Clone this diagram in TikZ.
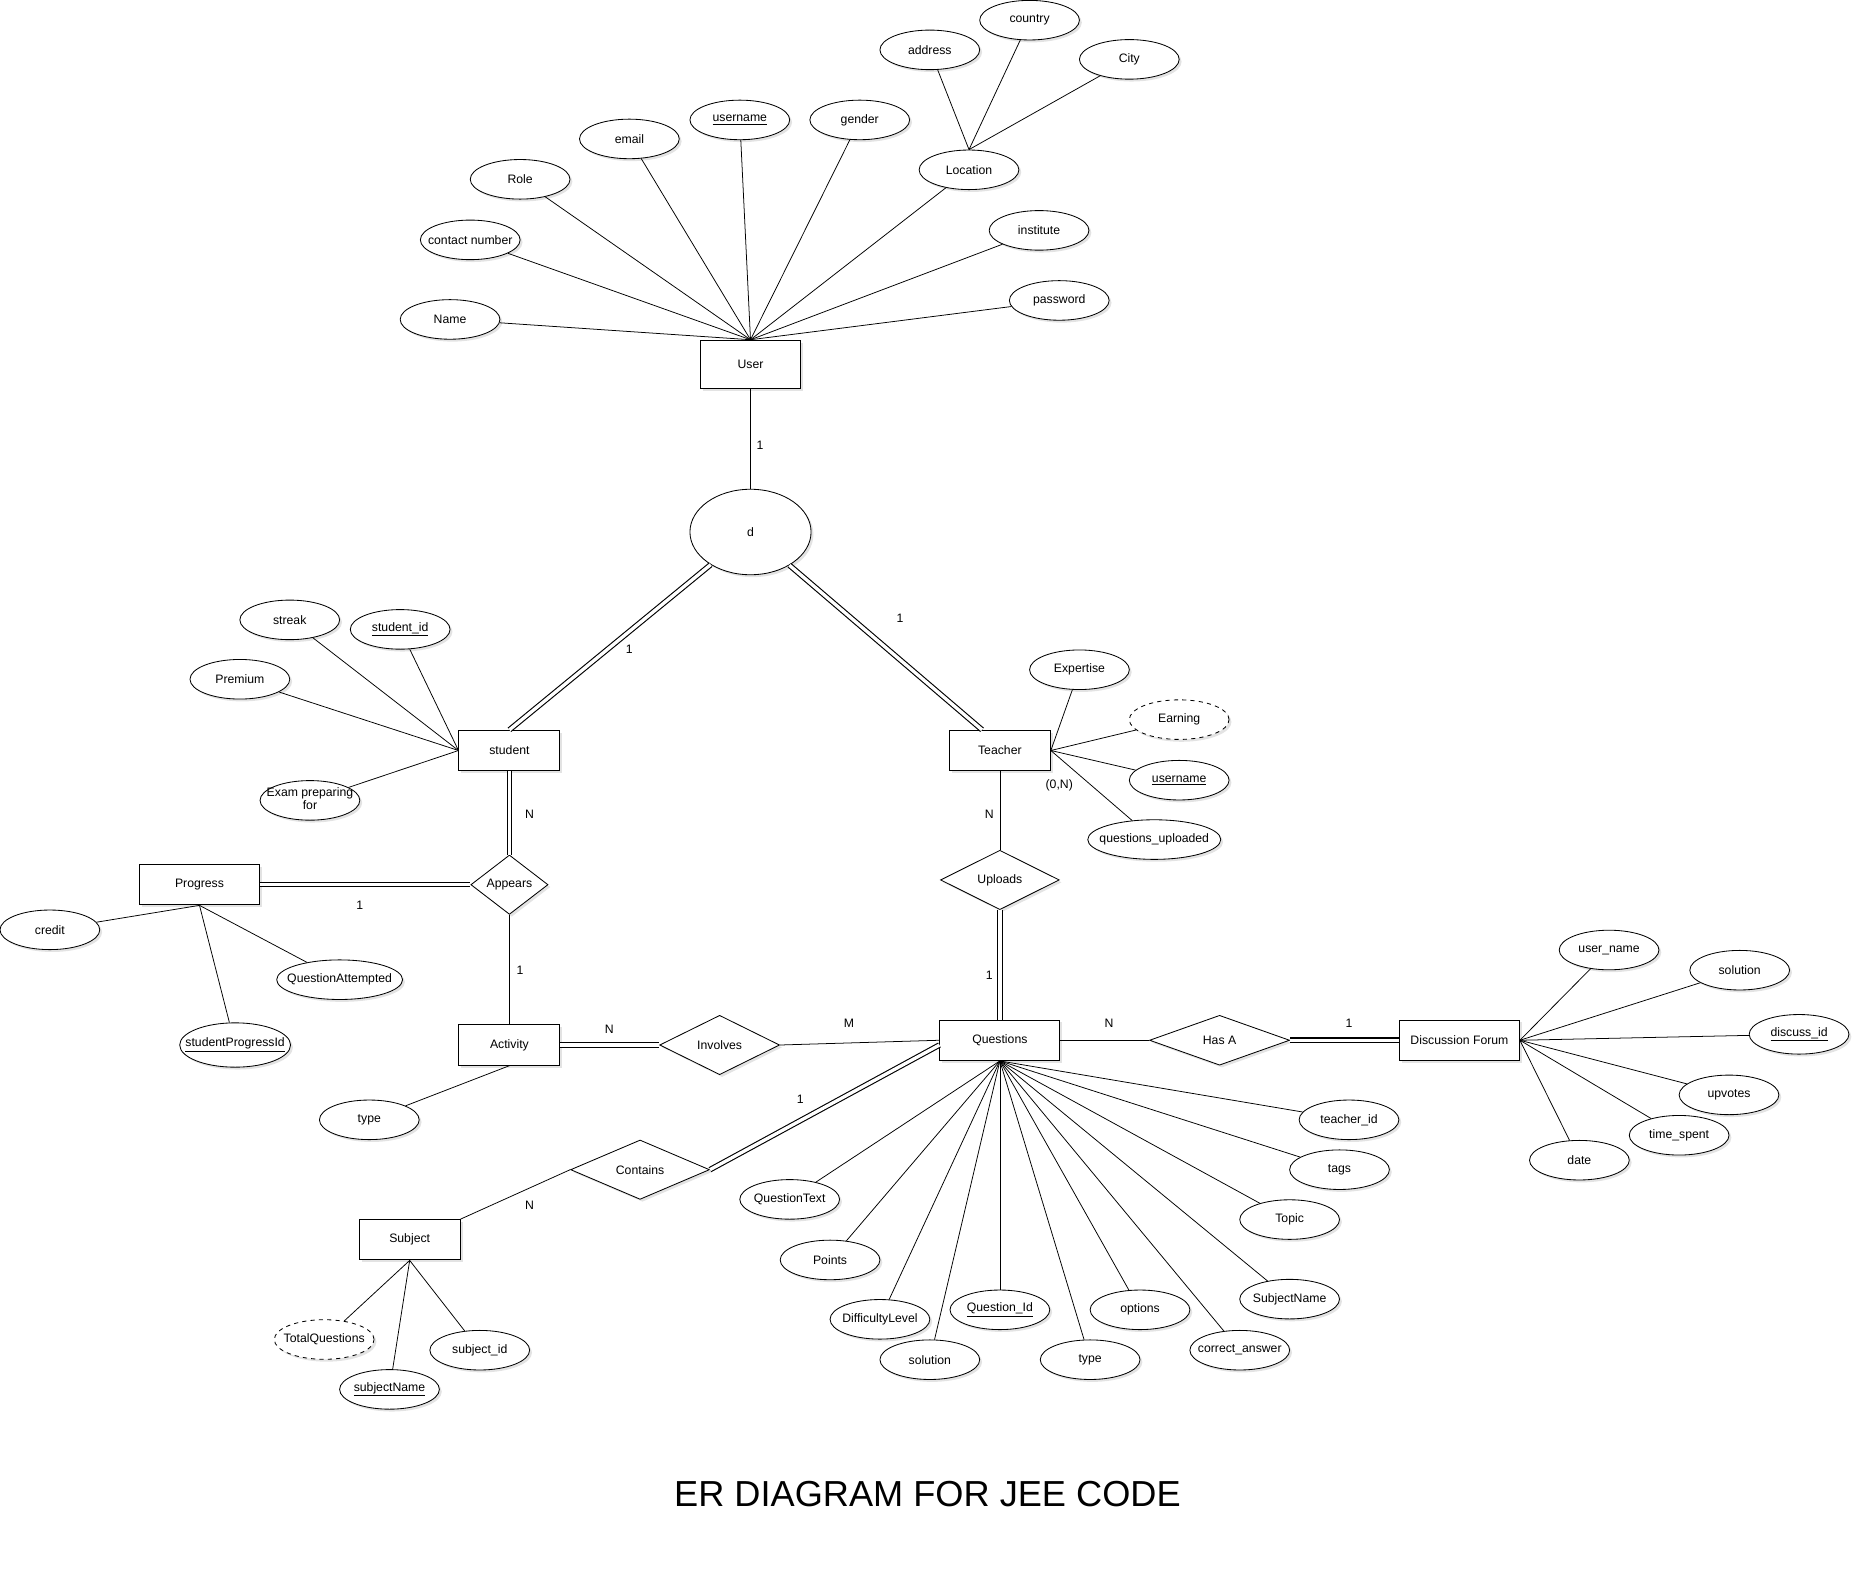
\documentclass[tikz,border=0pt]{standalone}
\usepackage{fontspec}
\setmainfont{Liberation Sans}
\usetikzlibrary{shapes.geometric,shadows}
\newcommand{\ct}[1]{\makebox[0pt][c]{#1}}
\begin{document}
\begin{tikzpicture}[x=0.03cm,y=-0.03cm,
 every node/.style={font=\fontsize{8.8}{10}\selectfont},
 shd/.style={drop shadow={opacity=0.22,shadow xshift=0.06cm,shadow yshift=-0.06cm}},
 attr/.style={ellipse,draw,fill=white,line width=0.6pt,minimum width=2.52cm,minimum height=1.0cm,inner sep=0pt,shd},
 dattr/.style={attr,dashed},
 ent/.style={rectangle,draw,fill=white,line width=0.7pt,minimum width=2.55cm,minimum height=1.02cm,inner sep=0pt,shd},
 rel/.style={diamond,draw,fill=white,line width=0.6pt,inner sep=0pt,shd},
 card/.style={inner sep=1pt},
 ln/.style={line width=0.55pt},
 dbl/.style={double,double distance=2.4pt,line width=0.8pt}]
\useasboundingbox (0,0) rectangle (1568,1324);

% ---------- User ----------
\node[ent,minimum width=2.52cm,minimum height=1.23cm] (user) at (632,307) {User};
\node[attr] (name) at (379,269) {\ct{Name}};
\node[attr] (contact) at (396,202) {\ct{contact number}};
\node[attr] (role) at (438,151) {\ct{Role}};
\node[attr] (email) at (530,117) {\ct{email}};
\node[attr] (uname) at (623,101) {\ct{\underline{username}}};
\node[attr] (gender) at (724,101) {\ct{gender}};
\node[attr] (loc) at (816,143) {\ct{Location}};
\node[attr] (addr) at (783,42) {\ct{address}};
\node[attr] (country) at (867,17) {\ct{country}};
\node[attr] (city) at (951,50) {\ct{City}};
\node[attr] (inst) at (875,194) {\ct{institute}};
\node[attr] (pwd) at (892,253) {\ct{password}};

\foreach \a in {name,contact,role,email,uname,gender,loc,inst,pwd}
  \draw[ln] (user.north) -- (\a);
\foreach \a in {addr,country,city}
  \draw[ln] (loc.north) -- (\a);

% ---------- d ----------
\node[ellipse,draw,fill=white,line width=0.6pt,minimum width=3.06cm,minimum height=2.16cm,inner sep=0pt,shd] (d) at (632,448) {d};
\draw[ln] (user) -- (d);
\node[card] (c1) at (640,375) {1};

% ---------- student ----------
\node[ent] (student) at (429,632) {student};
\node[attr] (streak) at (244,522) {\ct{streak}};
\node[attr] (sid) at (337,530) {\ct{\underline{student\_id}}};
\node[attr] (prem) at (202,572) {\ct{Premium}};
\node[attr] (exam) at (261,674) {\ct{\begin{tabular}{@{}c@{}}Exam preparing\\[-1pt]for\end{tabular}}};
\foreach \a in {streak,sid,prem,exam}
  \draw[ln] (student.west) -- (\a);
\draw[dbl] (d) -- (student.north);
\node[card] (c2) at (530,547) {1};

% ---------- Teacher ----------
\node[ent] (teacher) at (842,632) {Teacher};
\node[attr] (exp) at (909,564) {\ct{Expertise}};
\node[dattr] (earn) at (993,606) {\ct{Earning}};
\node[attr] (tuname) at (993,657) {\ct{\underline{username}}};
\node[attr,minimum width=3.36cm] (qup) at (972,707) {\ct{questions\_uploaded}};
\foreach \a in {exp,earn,tuname,qup}
  \draw[ln] (teacher.east) -- (\a);
\draw[dbl] (d) -- ([xshift=-0.45cm]teacher.north);
\node[card] (c3) at (758,521) {1};
\node[card] (c0n) at (892,661) {(0,N)};

% ---------- Appears / Progress / Activity ----------
\node[rel,minimum width=1.95cm,minimum height=1.5cm] (appears) at (429,745) {Appears};
\draw[dbl] (student) -- (appears);
\node[card] (c4) at (446,686) {N};

\node[ent,minimum width=3.03cm] (prog) at (168,745) {Progress};
\draw[dbl] (prog) -- (appears);
\node[card] (c5) at (303,762) {1};
\node[attr] (credit) at (42,783) {\ct{credit}};
\node[attr,minimum width=3.18cm] (qatt) at (286,825) {\ct{QuestionAttempted}};
\node[attr,minimum width=2.8cm,minimum height=1.12cm] (spid) at (198,880) {\ct{\underline{studentProgressId}}};
\foreach \a in {credit,qatt,spid}
  \draw[ln] (prog.south) -- (\a);

\node[ent] (act) at (429,880) {Activity};
\draw[ln] (appears) -- (act);
\node[card] (c6) at (438,817) {1};
\node[attr] (atype) at (311,943) {\ct{type}};
\draw[ln] (act.south) -- (atype);

% ---------- Uploads ----------
\node[rel,minimum width=3.0cm,minimum height=1.5cm] (upl) at (842,741) {Uploads};
\draw[ln] (teacher) -- (upl);
\node[card] (c7) at (833,686) {N};

% ---------- Questions ----------
\node[ent,minimum width=3.03cm] (q) at (842,876) {Questions};
\draw[dbl] (upl) -- (q);
\node[card] (c8) at (833,821) {1};

\node[rel,minimum width=3.03cm,minimum height=1.5cm] (inv) at (606,880) {Involves};
\draw[dbl] (act) -- (inv);
\node[card] (c9) at (513,867) {N};
\draw[ln] (inv.east) -- (q.west);
\node[card] (c10) at (715,862) {M};

\node[rel,minimum width=3.54cm,minimum height=1.26cm] (hasa) at (1027,876) {Has A};
\draw[ln] (q) -- (hasa);
\node[card] (c11) at (934,862) {N};

\node[ent,minimum width=3.03cm] (df) at (1229,876) {Discussion Forum};
\draw[dbl] (hasa) -- (df);
\node[card] (c12) at (1136,862) {1};

\node[attr] (dfu) at (1355,800) {\ct{user\_name}};
\node[attr] (dfs) at (1465,817) {\ct{solution}};
\node[attr] (dfid) at (1515,871) {\ct{\underline{discuss\_id}}};
\node[attr] (dfup) at (1456,922) {\ct{upvotes}};
\node[attr] (dft) at (1414,956) {\ct{time\_spent}};
\node[attr] (dfd) at (1330,977) {\ct{date}};
\foreach \a in {dfu,dfs,dfid,dfup,dft,dfd}
  \draw[ln] (df.east) -- (\a);

% ---------- Contains / Subject ----------
\node[rel,minimum width=3.51cm,minimum height=1.5cm] (cont) at (539,985) {Contains};
\draw[dbl] ([yshift=-0.12cm]q.west) -- (cont.east);
\node[card] (c13) at (674,926) {1};

\node[ent] (subj) at (345,1044) {Subject};
\draw[ln] (cont.west) -- (subj.north east);
\node[card] (c14) at (446,1015) {N};

\node[dattr] (totq) at (273,1128) {\ct{TotalQuestions}};
\node[attr] (sname) at (328,1170) {\ct{\underline{subjectName}}};
\node[attr] (subid) at (404,1137) {\ct{subject\_id}};
\foreach \a in {totq,sname,subid}
  \draw[ln] (subj.south) -- (\a);

% ---------- Question attributes ----------
\node[attr] (qt) at (665,1010) {\ct{QuestionText}};
\node[attr] (pts) at (699,1061) {\ct{Points}};
\node[attr] (diff) at (741,1111) {\ct{DifficultyLevel}};
\node[attr] (sol) at (783,1145) {\ct{solution}};
\node[attr] (qid) at (842,1103) {\ct{\underline{Question\_Id}}};
\node[attr] (qtype) at (918,1145) {\ct{type}};
\node[attr] (opt) at (960,1103) {\ct{options}};
\node[attr] (ca) at (1044,1137) {\ct{correct\_answer}};
\node[attr] (qsn) at (1086,1094) {\ct{SubjectName}};
\node[attr] (topic) at (1086,1027) {\ct{Topic}};
\node[attr] (tags) at (1128,985) {\ct{tags}};
\node[attr] (tid) at (1136,943) {\ct{teacher\_id}};
\foreach \a in {qt,pts,diff,sol,qid,qtype,opt,ca,qsn,topic,tags,tid}
  \draw[ln] (q.south) -- (\a);

% ---------- Title ----------
\node[font=\fontsize{26}{30}\selectfont] (title) at (781,1258) {ER DIAGRAM FOR JEE CODE};
\end{tikzpicture}
\end{document}
